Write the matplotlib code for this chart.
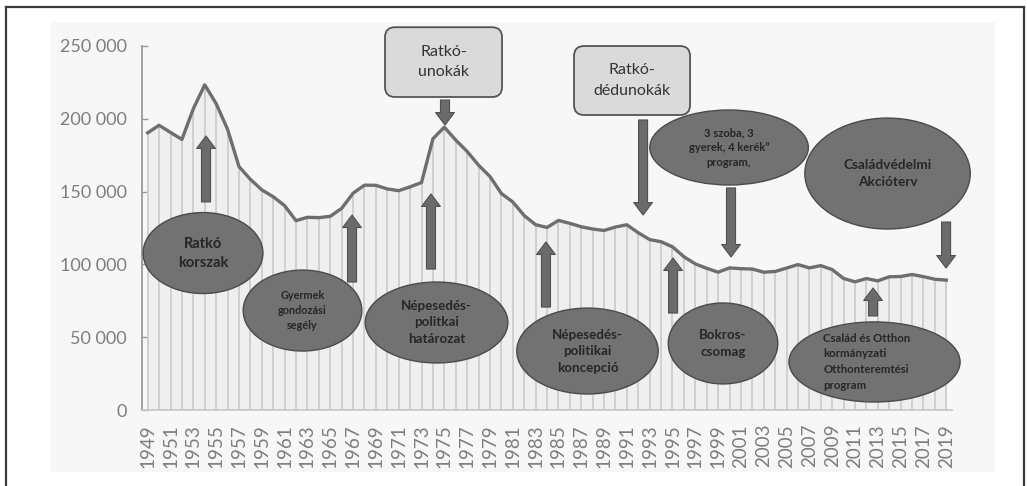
import matplotlib
matplotlib.use("Agg")
import matplotlib.pyplot as plt
from matplotlib.patches import Ellipse, FancyBboxPatch, FancyArrowPatch, ArrowStyle, Rectangle
from matplotlib.lines import Line2D
from matplotlib.transforms import IdentityTransform

plt.rcParams['font.family'] = ['Lato', 'DejaVu Sans']

# ---- data: live births in Hungary ----
years = list(range(1949, 2020))
births = [190398, 195567, 190645, 185820, 206926, 223347, 210430, 192810, 167202, 158428,
          151194, 146461, 140365, 130053, 132335, 132105, 133009, 138489, 148886, 154419,
          154318, 151819, 150640, 153265, 156224, 186288, 194240, 185405, 177574, 168160,
          160364, 148673, 142890, 133559, 127258, 125359, 130200, 128204, 125840, 124296,
          123304, 125679, 127207, 121724, 117033, 115598, 112054, 105272, 100350, 97301,
          94645, 97597, 97047, 96804, 94647, 95137, 97496, 99871, 97613, 99149,
          96442, 90335, 88049, 90269, 88689, 91510, 91690, 93063, 91577, 89807, 89193]
xtick_years = list(range(1949, 2020, 2))
ytick_values = [0, 50000, 100000, 150000, 200000, 250000]

# ellipse annotations
ellipse_texts = ["Ratkó\nkorszak", "Gyermek\ngondozási\nsegély", "Népesedés-\npolitkai\nhatározat",
                 "Népesedés-\npolitikai\nkoncepció", "Bokros-\ncsomag",
                 "3 szoba, 3\ngyerek, 4 kerék”\nprogram,", "Családvédelmi\nAkcióterv",
                 "Család és Otthon\nkormányzati\nOtthonteremtési\nprogram"]
ellipse_centers = [(1953.85, 107800), (1962.57, 68300), (1974.32, 60100), (1987.55, 40500),
                   (1999.43, 45700), (1999.96, 180300), (2013.85, 162400), (2012.71, 33000)]
ellipse_sizes = [(10.5, 55600), (10.4, 55600), (12.5, 55600), (12.4, 59000),
                 (9.6, 55600), (13.9, 51500), (14.5, 76200), (15.0, 55000)]
ellipse_fs = [10.5, 7.8, 9.6, 9.6, 9.6, 8.0, 9.8, 8.2]

# box annotations
box_texts = ["Ratkó-\nunokák", "Ratkó-\ndédunokák"]
box_extents = [(1969.80, 1980.06, 214970, 262900), (1986.37, 1996.54, 202610, 249990)]

# arrows: (year, value from, value to)
arrows = [(1954.11, 142900, 188200), (1966.91, 87900, 133900), (1975.06, 212900, 195700),
          (1973.83, 96800, 148400), (1983.91, 70700, 115400), (1992.42, 199200, 133900),
          (2000.13, 152500, 105100), (1995.05, 66600, 104400), (2018.98, 129100, 97500),
          (2012.58, 64600, 83800)]

W, H = 1027, 486
fig = plt.figure(figsize=(W / 100, H / 100), dpi=100)
fig.patch.set_facecolor('white')

# light background panel and outer frame
fig.patches.append(Rectangle((50 / W, (H - 472) / H), (995 - 50) / W, (472 - 22) / H,
                             transform=fig.transFigure, facecolor='#f7f7f7', edgecolor='none', zorder=-5))
for xs, ys in [([6, 6], [0, H - 7]), ([6, 1024], [H - 7, H - 7]), ([1024, 1024], [H - 7, 0])]:
    fig.add_artist(Line2D([x / W for x in xs], [y / H for y in ys], color='#3c3c3c', lw=1.6,
                          transform=fig.transFigure))

ax = fig.add_axes([142 / W, (H - 410) / H, (952 - 142) / W, (410 - 46) / H])
ax.set_facecolor('none')

ax.fill_between(years, births, 0, color='#efefef', lw=0, zorder=1)
ax.vlines(years, 0, births, color='#cdcdcd', lw=1.3, zorder=2)
ax.plot(years, births, color='#6e6e6e', lw=2.4, zorder=3, solid_joinstyle='round')

ax.set_xlim(1948.5, 2019.5)
ax.set_ylim(0, 250000)
ax.set_yticks(ytick_values)
ax.set_yticklabels([f"{v:,}".replace(",", " ") for v in ytick_values])
ax.set_xticks(xtick_years)
ax.set_xticklabels([str(y) for y in xtick_years], rotation=90)
ax.tick_params(axis='y', direction='in', length=4, width=1, color='#9a9a9a',
               labelsize=13, labelcolor='#7d7d7d', pad=11)
ax.tick_params(axis='x', length=0, labelsize=13.5, labelcolor='#7d7d7d', pad=10)
for s in ['top', 'right']:
    ax.spines[s].set_visible(False)
ax.spines['left'].set_color('#9a9a9a')
ax.spines['left'].set_linewidth(1.3)
ax.spines['bottom'].set_color('#c8c8c8')
ax.spines['bottom'].set_linewidth(1.3)

# arrows
for x, y0, y1 in arrows:
    ar = FancyArrowPatch((x, y0), (x, y1),
                         arrowstyle=ArrowStyle.Simple(head_length=0.9, head_width=1.35, tail_width=0.65),
                         mutation_scale=10, facecolor='#6b6b6b', edgecolor='#505050', lw=0.8,
                         shrinkA=0, shrinkB=0, clip_on=False, zorder=6)
    ax.add_patch(ar)

# ellipses
for i, (txt, (cx, cy), (w, h)) in enumerate(zip(ellipse_texts, ellipse_centers, ellipse_sizes)):
    e = Ellipse((cx, cy), w, h, facecolor='#727272', edgecolor='#4a4a4a', lw=1.0,
                clip_on=False, zorder=7)
    ax.add_patch(e)
    if i == 7:
        ax.text(cx - w * 0.30, cy, txt, ha='left', va='center', fontsize=ellipse_fs[i],
                fontweight='bold', color='#262626', linespacing=1.55, zorder=8)
    else:
        ax.text(cx, cy, txt, ha='center', va='center', fontsize=ellipse_fs[i],
                fontweight='bold', color='#262626', linespacing=1.45, zorder=8)

# boxes (drawn in display pixels so the rounded corners stay circular)
for txt, (x0, x1, y0, y1) in zip(box_texts, box_extents):
    (px0, py0) = ax.transData.transform((x0, y0))
    (px1, py1) = ax.transData.transform((x1, y1))
    r = 10
    bb = FancyBboxPatch((px0 + r, py0 + r), (px1 - px0) - 2 * r, (py1 - py0) - 2 * r,
                        boxstyle=f"round,pad={r},rounding_size={r}",
                        transform=IdentityTransform(), facecolor='#dadada', edgecolor='#555555',
                        lw=1.3, zorder=7, clip_on=False)
    ax.add_patch(bb)
    ax.text((x0 + x1) / 2, (y0 + y1) / 2, txt, ha='center', va='center', fontsize=11.5,
            color='#333333', linespacing=1.6, zorder=8, clip_on=False)

fig.savefig("out.png", dpi=100)
